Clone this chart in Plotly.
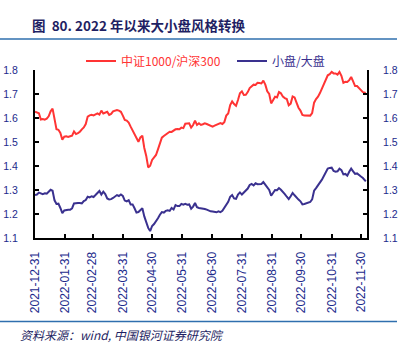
import plotly.graph_objects as go

# ---------------- data ----------------
dates = [
    "2021-12-31",
    "2022-01-02", "2022-01-04", "2022-01-06", "2022-01-08", "2022-01-10", "2022-01-12", "2022-01-14", "2022-01-16",
    "2022-01-18", "2022-01-20", "2022-01-22", "2022-01-24", "2022-01-26", "2022-01-28", "2022-01-30",
    "2022-02-01", "2022-02-03", "2022-02-05", "2022-02-07", "2022-02-09", "2022-02-11", "2022-02-13", "2022-02-15",
    "2022-02-17", "2022-02-19", "2022-02-21", "2022-02-23", "2022-02-25", "2022-02-27",
    "2022-03-01", "2022-03-03", "2022-03-05", "2022-03-07", "2022-03-09", "2022-03-11", "2022-03-13", "2022-03-15",
    "2022-03-17", "2022-03-19", "2022-03-21", "2022-03-23", "2022-03-25", "2022-03-27", "2022-03-29", "2022-03-31",
    "2022-04-02", "2022-04-04", "2022-04-06", "2022-04-08", "2022-04-10", "2022-04-12", "2022-04-14", "2022-04-16",
    "2022-04-18", "2022-04-20", "2022-04-22", "2022-04-24", "2022-04-26", "2022-04-28", "2022-04-30",
    "2022-05-02", "2022-05-04", "2022-05-06", "2022-05-08", "2022-05-10", "2022-05-12", "2022-05-14", "2022-05-16",
    "2022-05-18", "2022-05-20", "2022-05-22", "2022-05-24", "2022-05-26", "2022-05-28", "2022-05-30",
    "2022-06-01", "2022-06-03", "2022-06-05", "2022-06-07", "2022-06-09", "2022-06-11", "2022-06-13", "2022-06-15",
    "2022-06-17", "2022-06-19", "2022-06-21", "2022-06-23", "2022-06-25", "2022-06-27", "2022-06-29",
    "2022-07-01", "2022-07-03", "2022-07-05", "2022-07-07", "2022-07-09", "2022-07-11", "2022-07-13", "2022-07-15",
    "2022-07-17", "2022-07-19", "2022-07-21", "2022-07-23", "2022-07-25", "2022-07-27", "2022-07-29", "2022-07-31",
    "2022-08-02", "2022-08-04", "2022-08-06", "2022-08-08", "2022-08-10", "2022-08-12", "2022-08-14", "2022-08-16",
    "2022-08-18", "2022-08-20", "2022-08-22", "2022-08-24", "2022-08-26", "2022-08-28", "2022-08-30",
    "2022-09-01", "2022-09-03", "2022-09-05", "2022-09-07", "2022-09-09", "2022-09-11", "2022-09-13", "2022-09-15",
    "2022-09-17", "2022-09-19", "2022-09-21", "2022-09-23", "2022-09-25", "2022-09-27", "2022-09-29",
    "2022-10-01", "2022-10-03", "2022-10-05", "2022-10-07", "2022-10-09", "2022-10-11", "2022-10-13", "2022-10-15",
    "2022-10-17", "2022-10-19", "2022-10-21", "2022-10-23", "2022-10-25", "2022-10-27", "2022-10-29", "2022-10-31",
    "2022-11-02", "2022-11-04", "2022-11-06", "2022-11-08", "2022-11-10", "2022-11-12", "2022-11-14", "2022-11-16",
    "2022-11-18", "2022-11-20", "2022-11-22", "2022-11-24", "2022-11-26", "2022-11-28", "2022-11-30",
    "2022-12-02", "2022-12-04", "2022-12-05",
]

csi1000_hs300 = [
    1.626, 1.622, 1.620, 1.594, 1.596, 1.593, 1.597, 1.607, 1.628, 1.639, 1.586, 1.553, 1.551, 1.538,
    1.510, 1.522, 1.524, 1.521, 1.524, 1.526, 1.544, 1.533, 1.537, 1.543, 1.553, 1.561, 1.575, 1.606,
    1.611, 1.613, 1.611, 1.615, 1.619, 1.614, 1.631, 1.619, 1.624, 1.626, 1.613, 1.617, 1.628, 1.632,
    1.633, 1.631, 1.626, 1.610, 1.592, 1.589, 1.581, 1.564, 1.547, 1.535, 1.511, 1.501, 1.519, 1.526,
    1.475, 1.442, 1.394, 1.401, 1.425, 1.435, 1.446, 1.469, 1.494, 1.518, 1.525, 1.531, 1.535, 1.543,
    1.542, 1.549, 1.553, 1.554, 1.553, 1.560, 1.558, 1.576, 1.578, 1.578, 1.560, 1.571, 1.589, 1.571,
    1.578, 1.571, 1.574, 1.578, 1.575, 1.572, 1.568, 1.564, 1.568, 1.571, 1.575, 1.579, 1.575, 1.583,
    1.610, 1.619, 1.654, 1.669, 1.658, 1.651, 1.675, 1.703, 1.711, 1.696, 1.697, 1.708, 1.725, 1.732,
    1.739, 1.738, 1.747, 1.746, 1.744, 1.756, 1.739, 1.711, 1.700, 1.661, 1.676, 1.689, 1.686, 1.708,
    1.703, 1.689, 1.683, 1.679, 1.653, 1.660, 1.690, 1.686, 1.664, 1.643, 1.631, 1.613, 1.611, 1.610,
    1.610, 1.610, 1.621, 1.664, 1.679, 1.689, 1.704, 1.721, 1.743, 1.761, 1.778, 1.783, 1.792, 1.786,
    1.786, 1.781, 1.792, 1.776, 1.747, 1.751, 1.750, 1.758, 1.771, 1.753, 1.733, 1.733, 1.725, 1.718,
    1.708, 1.706, 1.697,
]

small_large = [
    1.279, 1.281, 1.289, 1.285, 1.283, 1.286, 1.285, 1.293, 1.301, 1.297, 1.257, 1.242, 1.243, 1.225,
    1.204, 1.215, 1.218, 1.218, 1.218, 1.224, 1.244, 1.246, 1.246, 1.246, 1.244, 1.254, 1.258, 1.272,
    1.269, 1.274, 1.271, 1.279, 1.288, 1.296, 1.281, 1.293, 1.283, 1.265, 1.261, 1.262, 1.267, 1.274,
    1.279, 1.275, 1.281, 1.275, 1.256, 1.253, 1.258, 1.240, 1.240, 1.224, 1.206, 1.208, 1.215, 1.224,
    1.190, 1.165, 1.142, 1.129, 1.150, 1.158, 1.168, 1.182, 1.197, 1.208, 1.206, 1.213, 1.215, 1.213,
    1.225, 1.219, 1.237, 1.233, 1.233, 1.242, 1.239, 1.242, 1.239, 1.240, 1.222, 1.231, 1.246, 1.228,
    1.225, 1.224, 1.224, 1.221, 1.218, 1.214, 1.211, 1.210, 1.208, 1.207, 1.211, 1.208, 1.213, 1.224,
    1.240, 1.251, 1.272, 1.279, 1.265, 1.263, 1.281, 1.290, 1.281, 1.289, 1.297, 1.306, 1.321, 1.325,
    1.319, 1.328, 1.324, 1.326, 1.325, 1.333, 1.322, 1.308, 1.300, 1.276, 1.290, 1.300, 1.299, 1.308,
    1.301, 1.294, 1.283, 1.272, 1.262, 1.274, 1.288, 1.278, 1.267, 1.260, 1.253, 1.240, 1.242, 1.244,
    1.247, 1.250, 1.261, 1.297, 1.308, 1.318, 1.329, 1.343, 1.358, 1.372, 1.389, 1.392, 1.393, 1.379,
    1.376, 1.378, 1.389, 1.383, 1.365, 1.367, 1.360, 1.376, 1.389, 1.378, 1.367, 1.369, 1.364, 1.356,
    1.350, 1.343, 1.336,
]

x_ticks = ["2021-12-31", "2022-01-31", "2022-02-28", "2022-03-31", "2022-04-30", "2022-05-31",
           "2022-06-30", "2022-07-31", "2022-08-31", "2022-09-30", "2022-10-31", "2022-11-30"]
y_ticks = [1.1, 1.2, 1.3, 1.4, 1.5, 1.6, 1.7, 1.8]
y_ticktext = ["1.1", "1.2", "1.3", "1.4", "1.5", "1.6", "1.7", "1.8"]

name_red = "中证1000/沪深300"
name_blue = "小盘/大盘"
title_text = "图  80. 2022 年以来大小盘风格转换"
source_text = "资料来源：wind, 中国银河证券研究院"

RED = "#FF3434"
BLUE = "#3A318F"
LABEL = "#1C2A8C"
NAVY = "#1F1F63"
RULE = "#2F6FAE"
CJK = "Noto Sans CJK SC"
LAT = "Liberation Sans"

fig = go.Figure()
fig.add_trace(go.Scatter(x=dates, y=csi1000_hs300, mode="lines", name=name_red,
                         line=dict(color=RED, width=2), legend="legend"))
fig.add_trace(go.Scatter(x=dates, y=small_large, mode="lines", name=name_blue,
                         line=dict(color=BLUE, width=2), yaxis="y2", legend="legend2"))

yax = dict(range=[1.1, 1.8001], tickvals=y_ticks, ticktext=y_ticktext, ticks="inside", ticklen=4,
           tickwidth=1.5, tickcolor="black", showline=True, linecolor="black", linewidth=2,
           showgrid=False, zeroline=False, tickfont=dict(family=LAT, size=10.5, color=LABEL),
           ticklabelstandoff=13, automargin=False)

fig.update_layout(
    width=407, height=343,
    margin=dict(l=35, r=40, t=70, b=105, pad=0, autoexpand=False),
    paper_bgcolor="white", plot_bgcolor="white",
    showlegend=True,
    title=dict(text="<b>" + title_text + "</b>", x=32 / 407, xref="container", xanchor="left",
               y=1 - 26 / 343, yref="container", yanchor="middle", automargin=False,
               font=dict(family=CJK, size=13.5, color=NAVY)),
    xaxis=dict(type="date", range=["2021-12-31", "2022-12-06 05:00"], tickvals=x_ticks, ticktext=x_ticks,
               tickangle=-90, ticks="inside", ticklen=4, tickwidth=1.5, tickcolor="black",
               showline=True, linecolor="black", linewidth=2, showgrid=False, zeroline=False,
               tickfont=dict(family=LAT, size=12, color=LABEL), ticklabelstandoff=7, automargin=False),
    yaxis=yax,
    yaxis2=dict(yax, overlaying="y", side="right", ticklabelstandoff=12),
    legend=dict(orientation="h", x=(81 - 35) / 332, xanchor="left", y=1 + (70 - 61) / 168, yanchor="middle",
                font=dict(family=CJK, size=12, color=RED), bgcolor="rgba(0,0,0,0)", borderwidth=0),
    legend2=dict(orientation="h", x=(232 - 35) / 332, xanchor="left", y=1 + (70 - 61) / 168, yanchor="middle",
                 font=dict(family=CJK, size=12, color=BLUE), bgcolor="rgba(0,0,0,0)", borderwidth=0),
    shapes=[
        dict(type="line", xref="paper", yref="paper", x0=-35 / 332, x1=(397 - 35) / 332,
             y0=(238 - 39) / 168, y1=(238 - 39) / 168, line=dict(color=RULE, width=1.5)),
        dict(type="line", xref="paper", yref="paper", x0=-35 / 332, x1=(397 - 35) / 332,
             y0=(238 - 321.5) / 168, y1=(238 - 321.5) / 168, line=dict(color=RULE, width=1.5)),
    ],
    annotations=[
        dict(text="<i>" + source_text + "</i>", xref="paper", yref="paper", x=(18 - 35) / 332,
             y=(238 - 334) / 168, xanchor="left", yanchor="middle", showarrow=False,
             font=dict(family=CJK, size=12, color=NAVY)),
    ],
)

fig.write_html("out.html")
